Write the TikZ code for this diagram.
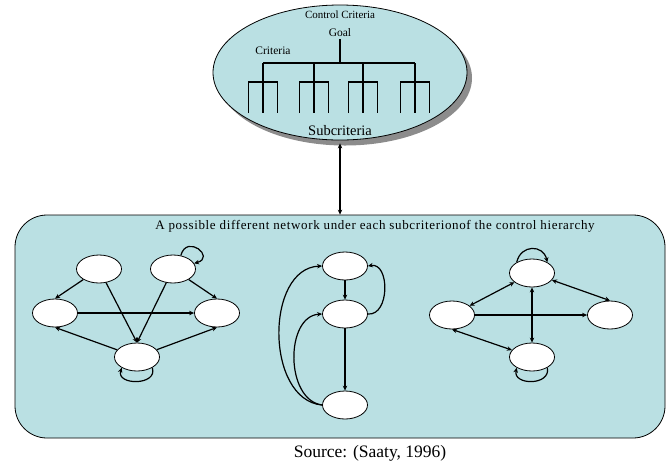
\documentclass[tikz,border=0pt]{standalone}
\usepackage{fontspec}
\setmainfont{Liberation Serif}
\usetikzlibrary{shapes.geometric,arrows.meta}
\definecolor{paneblue}{RGB}{186,224,227}
\definecolor{shadowgray}{RGB}{140,140,140}
\begin{document}
\begin{tikzpicture}[x=1pt,y=-1pt,
  vtx/.style={ellipse,draw=black,fill=white,line width=0.8pt,
    minimum width=45pt,minimum height=28pt,inner sep=0pt},
  link/.style={line width=1.2pt,-{Stealth[length=5pt,width=4.5pt]}},
  both/.style={line width=1.2pt,{Stealth[length=5pt,width=4.5pt]}-{Stealth[length=5pt,width=4.5pt]}},
  tree/.style={line width=1.2pt},
  lbl/.style={inner sep=0pt,font=\fontsize{#1}{#1}\selectfont},
]
\useasboundingbox (0,0) rectangle (672,467);

% control hierarchy
\fill[shadowgray] (345,78) ellipse [x radius=127, y radius=67.5];
\node[ellipse,draw=black,fill=paneblue,line width=0.8pt,minimum width=254pt,
  minimum height=135pt,inner sep=0pt] (ctrl) at (340,72.5) {};
\node[lbl=11] (cc) at (340,15) {Control Criteria};
\node[lbl=11.5] (goal) at (340,33) {Goal};
\node[lbl=11.5] (crit) at (273,51) {Criteria};
\node[lbl=14.5] (sub) at (340,131) {Subcriteria};

\draw[tree] (340,39) -- (340,63) (263,63) -- (415,63);
\foreach \c in {263,314,363,415}{
  \draw[tree] (\c,63) -- (\c,113)
    (\c-14.5,113) -- (\c-14.5,82) -- (\c+14.5,82) -- (\c+14.5,113);
}

% network pane
\node[rectangle,rounded corners=32pt,draw=black,fill=paneblue,line width=0.8pt,
  minimum width=650pt,minimum height=223pt,inner sep=0pt] (net) at (340,326.5) {};
\draw[both] (ctrl.south) ++(0,3) coordinate (cs) (cs) -- (net.north);
\node[inner sep=0pt,font={\fontsize{13}{13}\selectfont\addfontfeatures{LetterSpace=5}}]
  (title) at (375,226)
  {A possible different network under each subcriterionof the control hierarchy};
\node[lbl=17.5] (src) at (370,453) {Source: (Saaty, 1996)};

% first network
\node[vtx] (A) at (99,269) {};
\node[vtx] (B) at (173,269) {};
\node[vtx] (C) at (55,313) {};
\node[vtx] (D) at (217,313) {};
\node[vtx] (E) at (137,357) {};
\draw[link] (A) -- (C.north);
\draw[link] (A) -- (E.north);
\draw[link] (B) -- (E.north);
\draw[link] (B) -- (D.north);
\draw[link] (C) -- (D);
\draw[link] (E) -- (C.south);
\draw[link] (E) -- (D.south);
\draw[link] (B.60) .. controls +(6,-22) and +(22,-6) .. (B.15);
\draw[link] (E.-35) .. controls +(6,18) and +(-6,18) .. (E.-145);

% second network
\node[vtx] (T) at (345,266) {};
\node[vtx] (M) at (345,314) {};
\node[vtx] (W) at (345,405) {};
\draw[link] (T) -- (M);
\draw[link] (M) -- (W);
\draw[link] (M.east) .. controls (390,316) and (390,262) .. (T.east);
\draw[link] (W.west) .. controls (265,400) and (265,268) .. (T.west);
\draw[link] (W.west) .. controls (285,400) and (285,316) .. (M.west);

% third network
\node[vtx] (P) at (532,273) {};
\node[vtx] (L) at (452,315) {};
\node[vtx] (R) at (610,315) {};
\node[vtx] (Q) at (532,357) {};
\draw[both] (P) -- (L);
\draw[both] (P) -- (R.north);
\draw[link] (L) -- (R);
\draw[both] (P) -- (Q);
\draw[both] (L.south) -- (Q);
\draw[link] (P.145) .. controls +(4,-18) and +(-4,-18) .. (P.35);
\draw[link] (Q.-35) .. controls +(4,18) and +(-4,18) .. (Q.-145);
\end{tikzpicture}
\end{document}
